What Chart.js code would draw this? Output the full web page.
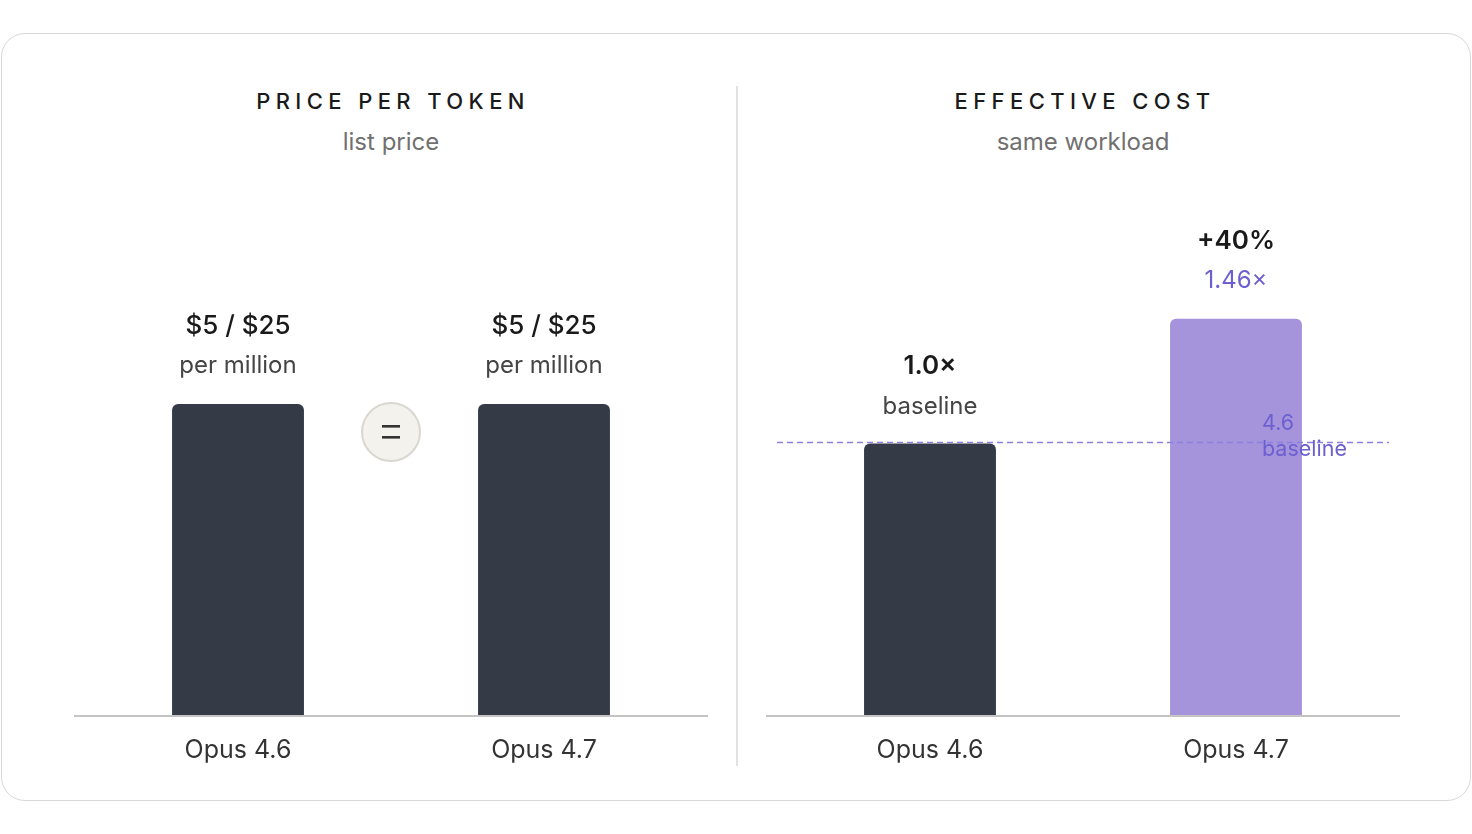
<!DOCTYPE html>
<html>
<head>
<meta charset="utf-8">
<script src="https://cdn.jsdelivr.net/npm/chart.js@4.4.0/dist/chart.umd.min.js"></script>
<style>
  body { margin: 0; background: #fff; font-family: "Inter", "Noto Sans", sans-serif; width: 1472px; height: 834px; position: relative; overflow: hidden; }
  .card { position: absolute; left: 1px; top: 33px; width: 1470px; height: 768px; box-sizing: border-box; border: 1.5px solid #d8d8d8; border-radius: 24px; }
  .title { position: absolute; width: 600px; text-align: center; font-size: 22px; font-weight: 500; letter-spacing: 5.4px; color: #1a1a1a; top: 88px; }
  .sub { position: absolute; width: 600px; text-align: center; font-size: 24px; color: #707070; top: 127px; }
  .divider { position: absolute; left: 736px; top: 86px; width: 2px; height: 680px; background: #e2e2e2; }
  canvas { position: absolute; top: 170px; }
</style>
</head>
<body>
<div class="card"></div>
<div class="title" style="left:93px">PRICE PER TOKEN</div>
<div class="sub" style="left:91px">list price</div>
<div class="title" style="left:785px">EFFECTIVE COST</div>
<div class="sub" style="left:783px">same workload</div>
<div class="divider"></div>
<canvas id="priceChart" width="634" height="620" style="left:74px"></canvas>
<canvas id="costChart" width="634" height="620" style="left:766px"></canvas>
<script>
const models = ['Opus 4.6', 'Opus 4.7'];
const inputPrice = [5, 5];      // $ per million input tokens
const outputPrice = [25, 25];   // $ per million output tokens
const effectiveCost = [1.0, 1.46];
const costChange = ['', '+40%'];
const baselineValue = 1.0;

const DARK = '#343a46';
const PURPLE_BAR = '#a594dc';
const PURPLE_TEXT = '#6c5fcf';
const FONT = '"Inter", "Noto Sans", sans-serif';

// draws stacked text lines above each bar
function labelPlugin(linesFor) {
  return {
    id: 'barLabels',
    afterDatasetsDraw(chart) {
      const ctx = chart.ctx;
      const meta = chart.getDatasetMeta(0);
      ctx.save();
      ctx.textAlign = 'center';
      ctx.textBaseline = 'middle';
      meta.data.forEach((bar, i) => {
        linesFor(i).forEach((l) => {
          ctx.font = l.font;
          ctx.fillStyle = l.color;
          ctx.fillText(l.text, bar.x, bar.y - l.offset);
        });
      });
      ctx.restore();
    }
  };
}

// long axis line across the whole canvas
const baseLine = {
  id: 'baseLine',
  afterDatasetsDraw(chart) {
    const ctx = chart.ctx;
    const y = chart.chartArea.bottom + 1;
    ctx.save();
    ctx.strokeStyle = '#c4c4c4';
    ctx.lineWidth = 2;
    ctx.beginPath();
    ctx.moveTo(0, y);
    ctx.lineTo(chart.width, y);
    ctx.stroke();
    ctx.restore();
  }
};

function baseOptions(yMax) {
  return {
    responsive: false,
    animation: false,
    layout: { padding: { top: 30, left: 11, right: 11, bottom: 0 } },
    plugins: { legend: { display: false }, tooltip: { enabled: false } },
    scales: {
      x: {
        grid: { display: false, drawTicks: false },
        border: { display: false },
        ticks: { color: '#333', font: { family: FONT, size: 25 }, padding: 20 },
        afterFit: (scale) => { scale.height = 75; }
      },
      y: { display: false, min: 0, max: yMax }
    }
  };
}

// left: price per token
const equalSign = {
  id: 'equalSign',
  afterDatasetsDraw(chart) {
    const ctx = chart.ctx;
    const bars = chart.getDatasetMeta(0).data;
    const x = (bars[0].x + bars[1].x) / 2;
    const y = bars[0].y + 28;
    ctx.save();
    ctx.beginPath();
    ctx.arc(x, y, 29, 0, Math.PI * 2);
    ctx.fillStyle = '#f3f2ec';
    ctx.fill();
    ctx.lineWidth = 2;
    ctx.strokeStyle = '#d9d7cf';
    ctx.stroke();
    ctx.fillStyle = '#333';
    ctx.fillRect(x - 9, y - 7, 18, 2.6);
    ctx.fillRect(x - 9, y + 4, 18, 2.6);
    ctx.restore();
  }
};

new Chart(document.getElementById('priceChart'), {
  type: 'bar',
  data: {
    labels: models,
    datasets: [{
      data: inputPrice,
      backgroundColor: DARK,
      borderRadius: 6,
      borderSkipped: 'start',
      barPercentage: 0.862,
      categoryPercentage: 0.5
    }]
  },
  options: baseOptions(8.28),
  plugins: [baseLine, equalSign, labelPlugin((i) => [
    { text: '$' + inputPrice[i] + ' / $' + outputPrice[i], font: '500 26px ' + FONT, color: '#1a1a1a', offset: 78 },
    { text: 'per million', font: '24px ' + FONT, color: '#444', offset: 38 }
  ])]
});

// right: effective cost
const baselineMark = {
  id: 'baselineMark',
  afterDatasetsDraw(chart) {
    const ctx = chart.ctx;
    const area = chart.chartArea;
    const y = chart.scales.y.getPixelForValue(baselineValue) - 1;
    ctx.save();
    ctx.setLineDash([6, 4]);
    ctx.strokeStyle = '#8b7fdf';
    ctx.lineWidth = 1.5;
    ctx.beginPath();
    ctx.moveTo(area.left, y);
    ctx.lineTo(area.right, y);
    ctx.stroke();
    ctx.setLineDash([]);
    ctx.fillStyle = PURPLE_TEXT;
    ctx.font = '21.5px ' + FONT;
    ctx.textAlign = 'left';
    ctx.textBaseline = 'middle';
    ctx.fillText('4.6', area.right - 127, y - 19);
    ctx.fillText('baseline', area.right - 127, y + 7);
    ctx.restore();
  }
};

new Chart(document.getElementById('costChart'), {
  type: 'bar',
  data: {
    labels: models,
    datasets: [{
      data: effectiveCost,
      backgroundColor: [DARK, PURPLE_BAR],
      borderRadius: 6,
      borderSkipped: 'start',
      barPercentage: 0.862,
      categoryPercentage: 0.5
    }]
  },
  options: baseOptions(1.897),
  plugins: [baseLine, baselineMark, labelPlugin((i) => i === 0 ? [
    { text: effectiveCost[i].toFixed(1) + '×', font: '600 26px ' + FONT, color: '#1a1a1a', offset: 77 },
    { text: 'baseline', font: '24px ' + FONT, color: '#444', offset: 37 }
  ] : [
    { text: costChange[i], font: '600 26px ' + FONT, color: '#1a1a1a', offset: 77 },
    { text: effectiveCost[i].toFixed(2) + '×', font: '24px ' + FONT, color: PURPLE_TEXT, offset: 38 }
  ])]
});
</script>
</body>
</html>
